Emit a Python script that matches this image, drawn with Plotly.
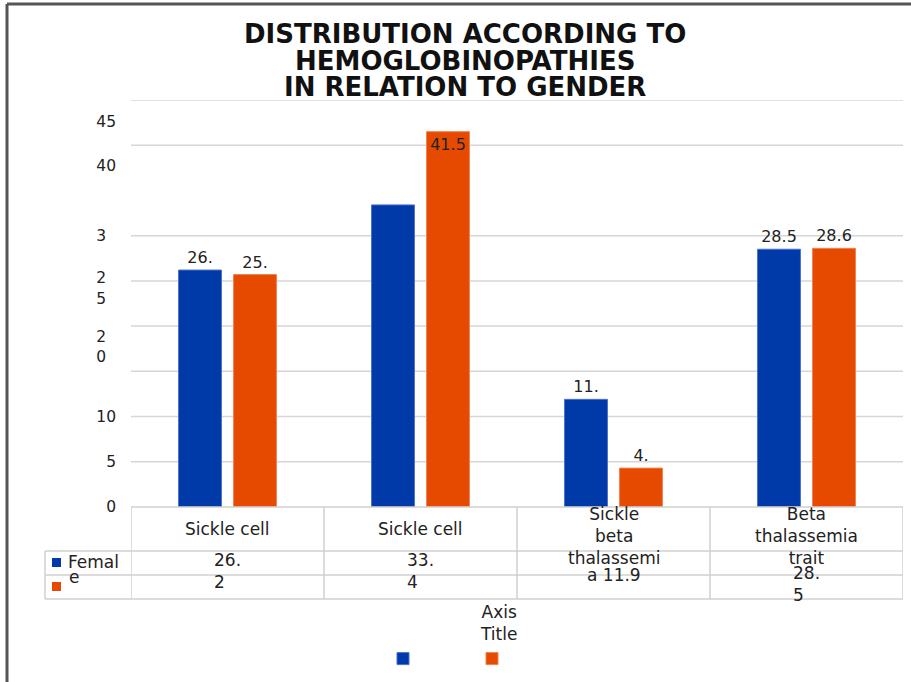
import plotly.graph_objects as go

# ---------------- data ----------------
categories = ["Sickle cell", "Sickle cell", "Sickle beta thalassemia", "Beta thalassemia trait"]
series_names = ["Female", "Male"]
female = [26.2, 33.4, 11.9, 28.5]
male = [25.7, 41.5, 4.3, 28.6]
female_bar_labels = ["26.", "", "11.", "28.5"]
male_bar_labels = ["25.", "41.5", "4.", "28.6"]
# category header text as wrapped in the data table
header_lines = [["Sickle cell"], ["Sickle cell"], ["Sickle", "beta", "thalassemi"], ["Beta", "thalassemia", "trait"]]
header_overflow = ["", "", "a ", ""]          # wrapped remainder that spills into the value row
female_row_wrapped = [True, True, False, True]
grid_values = [5, 10, 15, 20, 25, 30, 40, 45]
ytick_label_pos = [0, 5, 10, 17.7, 24.2, 30, 37.8, 42.6]
NB = "\u00a0\u00a0"
ytick_labels = ["0", "5", "10", "2" + NB + "<br>0" + NB, "2" + NB + "<br>5" + NB, "3" + NB, "40", "45"]
title_lines = ["DISTRIBUTION ACCORDING TO", "HEMOGLOBINOPATHIES", "IN RELATION TO GENDER"]
legend_row_label = ["Femal", "e"]
axis_title = ["Axis", "Title"]

BLUE = "#0039A8"
ORANGE = "#E64A00"
TXT = "#222222"
GRID = "#d6d6d6"
FONT = "DejaVu Sans"

# ---------------- layout geometry (pixels) ----------------
WIDTH, HEIGHT = 911, 682
L, R, T, B = 131, 903, 100, 507
PW, PH = R - L, B - T


def px_x(px):
    return (px - L) / PW


def px_y(py):
    return (B - py) / PH


x_idx = list(range(len(categories)))

fig = go.Figure()
fig.add_trace(go.Bar(
    x=x_idx, y=female, name=" ", marker=dict(color=BLUE, line=dict(color="#4a6fd0", width=1)),
    text=female_bar_labels, textposition="outside", cliponaxis=False,
    textfont=dict(family=FONT, size=16, color=TXT),
    customdata=categories, hovertemplate="%{customdata}<br>" + series_names[0] + ": %{y}<extra></extra>",
))
fig.add_trace(go.Bar(
    x=x_idx, y=male, name=" ", marker=dict(color=ORANGE, line=dict(color="#f08050", width=1)),
    text=male_bar_labels,
    textposition=["inside" if v > 40 else "outside" for v in male],
    insidetextanchor="end", cliponaxis=False,
    textfont=dict(family=FONT, size=16, color=TXT),
    insidetextfont=dict(family=FONT, size=16, color=TXT),
    customdata=categories, hovertemplate="%{customdata}<br>" + series_names[1] + ": %{y}<extra></extra>",
))

shapes = []
# grid lines
for v in grid_values:
    shapes.append(dict(type="line", xref="paper", yref="y", x0=0, x1=1, y0=v, y1=v,
                       line=dict(color=GRID, width=1.5), layer="below"))
# data table lines
tbl_line = dict(color="#d0d0d0", width=1.5)
for py in [551, 575, 599]:
    shapes.append(dict(type="line", xref="paper", yref="paper", x0=px_x(45), x1=1,
                       y0=px_y(py), y1=px_y(py), line=tbl_line))
shapes.append(dict(type="line", xref="paper", yref="paper", x0=0, x1=1,
                   y0=0, y1=0, line=tbl_line))
for i in range(len(categories) + 1):
    shapes.append(dict(type="line", xref="x", yref="paper", x0=i - 0.5, x1=i - 0.5,
                       y0=0, y1=px_y(599), line=tbl_line))
shapes.append(dict(type="line", xref="paper", yref="paper", x0=px_x(45), x1=px_x(45),
                   y0=px_y(551), y1=px_y(599), line=tbl_line))
# legend keys in table
shapes.append(dict(type="rect", xref="paper", yref="paper", x0=px_x(52), x1=px_x(61),
                   y0=px_y(567), y1=px_y(558), fillcolor=BLUE, line=dict(width=0)))
shapes.append(dict(type="rect", xref="paper", yref="paper", x0=px_x(52), x1=px_x(61),
                   y0=px_y(591), y1=px_y(582), fillcolor=ORANGE, line=dict(width=0)))
# outer frame (left + top)
frame = dict(color="#555555", width=3)
shapes.append(dict(type="line", xref="paper", yref="paper", x0=px_x(7), x1=px_x(7),
                   y0=px_y(682), y1=px_y(4), line=frame))
shapes.append(dict(type="line", xref="paper", yref="paper", x0=px_x(7), x1=px_x(911),
                   y0=px_y(4), y1=px_y(4), line=frame))

annotations = []
# title
for k, line in enumerate(title_lines):
    annotations.append(dict(text="<b>" + line + "</b>", xref="paper", yref="paper",
                            x=px_x(465), y=px_y(34 + k * 26.5), xanchor="center", yanchor="middle",
                            showarrow=False, font=dict(family=FONT, size=26, color="#111111")))
# table header
for i, lines in enumerate(header_lines):
    cy = 529 if len(lines) == 1 else 536
    annotations.append(dict(text="<br>".join(lines), xref="x", yref="paper", x=i, y=px_y(cy),
                            xanchor="center", yanchor="middle", showarrow=False,
                            font=dict(family=FONT, size=17, color=TXT)))
# female value row
for i, v in enumerate(female):
    s = f"{v:.1f}"
    if female_row_wrapped[i]:
        head, tail = s.split(".")
        txt = head + ".<br>" + tail
        cy = 570.5 if i < 2 else 584
    else:
        txt = header_overflow[i] + s
        cy = 575
    annotations.append(dict(text=txt, xref="x", yref="paper", x=i, y=px_y(cy),
                            xanchor="center", yanchor="middle", align="left", showarrow=False,
                            font=dict(family=FONT, size=17, color=TXT)))
# table row label
annotations.append(dict(text=legend_row_label[0], xref="paper", yref="paper", x=px_x(66), y=px_y(562),
                        xanchor="left", yanchor="middle", showarrow=False,
                        font=dict(family=FONT, size=17, color=TXT)))
annotations.append(dict(text=legend_row_label[1], xref="paper", yref="paper", x=px_x(67), y=px_y(577),
                        xanchor="left", yanchor="middle", showarrow=False,
                        font=dict(family=FONT, size=17, color=TXT)))
# axis title
annotations.append(dict(text="<br>".join(axis_title), xref="paper", yref="paper", x=px_x(498), y=px_y(623),
                        xanchor="center", yanchor="middle", showarrow=False,
                        font=dict(family=FONT, size=17, color=TXT)))

fig.update_layout(
    width=WIDTH, height=HEIGHT,
    margin=dict(l=L, r=WIDTH - R, t=T, b=HEIGHT - B, autoexpand=False),
    paper_bgcolor="white", plot_bgcolor="white",
    barmode="group", bargap=0.43, bargroupgap=0.22,
    font=dict(family=FONT, color=TXT),
    xaxis=dict(range=[-0.5, len(categories) - 0.5], showticklabels=False, showgrid=False,
               zeroline=False, showline=False, ticks="", fixedrange=True),
    yaxis=dict(range=[0, 45], tickvals=ytick_label_pos, ticktext=ytick_labels, showgrid=False,
               zeroline=False, showline=False, ticks="", ticklabelstandoff=14,
               tickfont=dict(family=FONT, size=15.5, color=TXT)),
    showlegend=True,
    legend=dict(orientation="h", x=px_x(383), y=px_y(659), xanchor="left", yanchor="middle",
                entrywidth=44, entrywidthmode="pixels", font=dict(family=FONT, size=14),
                bgcolor="rgba(0,0,0,0)"),
    shapes=shapes, annotations=annotations,
)

fig.write_html("out.html")
